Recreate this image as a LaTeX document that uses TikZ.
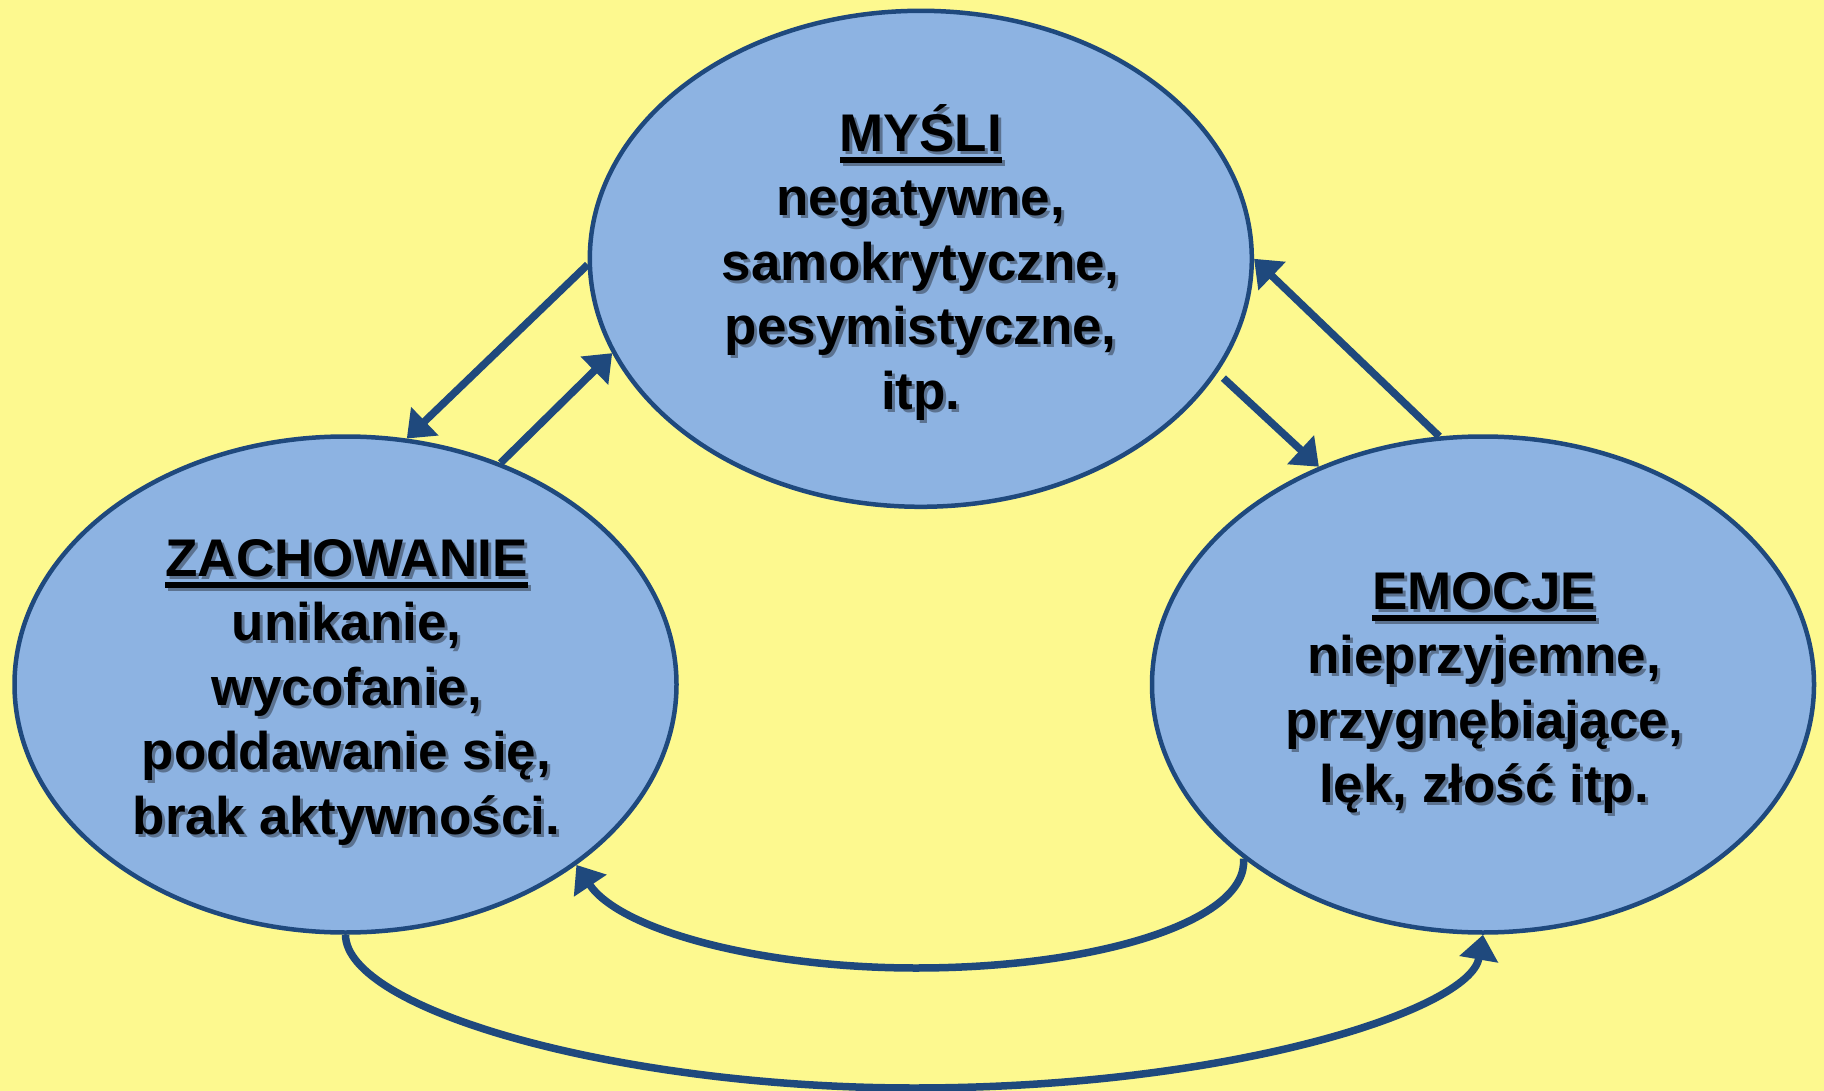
\documentclass[tikz,border=0pt]{standalone}
\usepackage{fontspec}
\setmainfont{Liberation Sans}
\usetikzlibrary{shapes.geometric,arrows.meta}
\definecolor{bgyellow}{HTML}{FDF98F}
\definecolor{bubblefill}{HTML}{8DB3E2}
\definecolor{navy}{HTML}{1F497D}
\definecolor{shade}{HTML}{2A3240}
% underlined heading with a thick rule below the baseline
\newcommand\headword[1]{\setbox0\hbox{#1}\rlap{\rule[-11.5pt]{\wd0}{5.5pt}}\box0}
% fixed height for the first line, so that north anchors sit at baseline-52pt
\newcommand\topstrut{\rule{0pt}{52pt}}
\begin{document}
\begin{tikzpicture}[x=1pt,y=-1pt,
  bubble/.style={ellipse, draw=navy, fill=bubblefill, line width=4.5pt,
    minimum width=662pt, minimum height=496pt, inner sep=0pt},
  lbl/.style={font=\fontsize{53}{64.5}\selectfont\bfseries, align=center,
    inner sep=0pt, anchor=north},
  lblshadow/.style={lbl, text=shade, text opacity=0.5},
  conn/.style={draw=navy, line width=7.5pt,
    -{Triangle[length=25pt,width=38pt]}}]
\fill[bgyellow] (0,0) rectangle (1824,1091);
\useasboundingbox (0,0) rectangle (1824,1091);

% the three bubbles
\node[bubble] (mysli) at (920.8,258.8) {};
\node[bubble] (zach)  at (345.5,684.5) {};
\node[bubble] (emo)   at (1483,684.5) {};

% texts, each with a soft drop shadow
\node[lblshadow] (myslishadow) at (923.8,102)
  {\topstrut\headword{MYŚLI}\\negatywne,\\samokrytyczne,\\pesymistyczne,\\itp.};
\node[lbl] (myslitext) at (920.8,99)
  {\topstrut\headword{MYŚLI}\\negatywne,\\samokrytyczne,\\pesymistyczne,\\itp.};

\node[lblshadow] (zachshadow) at (349.5,527)
  {\topstrut\headword{ZACHOWANIE}\\unikanie,\\wycofanie,\\poddawanie się,\\brak aktywności.};
\node[lbl] (zachtext) at (346.5,524)
  {\topstrut\headword{ZACHOWANIE}\\unikanie,\\wycofanie,\\poddawanie się,\\brak aktywności.};

\node[lblshadow] (emoshadow) at (1487,560)
  {\topstrut\headword{EMOCJE}\\nieprzyjemne,\\przygnębiające,\\lęk, złość itp.};
\node[lbl] (emotext) at (1484,557)
  {\topstrut\headword{EMOCJE}\\nieprzyjemne,\\przygnębiające,\\lęk, złość itp.};

% straight connectors between the bubbles
\draw[conn] (mysli.181) -- (zach.76);
\draw[conn] (zach.55.4) -- (mysli.197.5);
\draw[conn, shorten <=8pt] (mysli.339.2) -- (emo.127.4);
\draw[conn] (emo.100.8) -- (mysli.0);

% curved connectors under the bubbles
\draw[conn] (emo.216.9) .. controls (1249,920) and (1100,968) .. (916,968)
  .. controls (760,968) and (620,930) .. (zach.322.9);
\draw[conn] (zach.270) .. controls (346,1010) and (620,1088) .. (914,1088)
  .. controls (1230,1088) and (1470,1010) .. (emo.270);
\end{tikzpicture}
\end{document}
